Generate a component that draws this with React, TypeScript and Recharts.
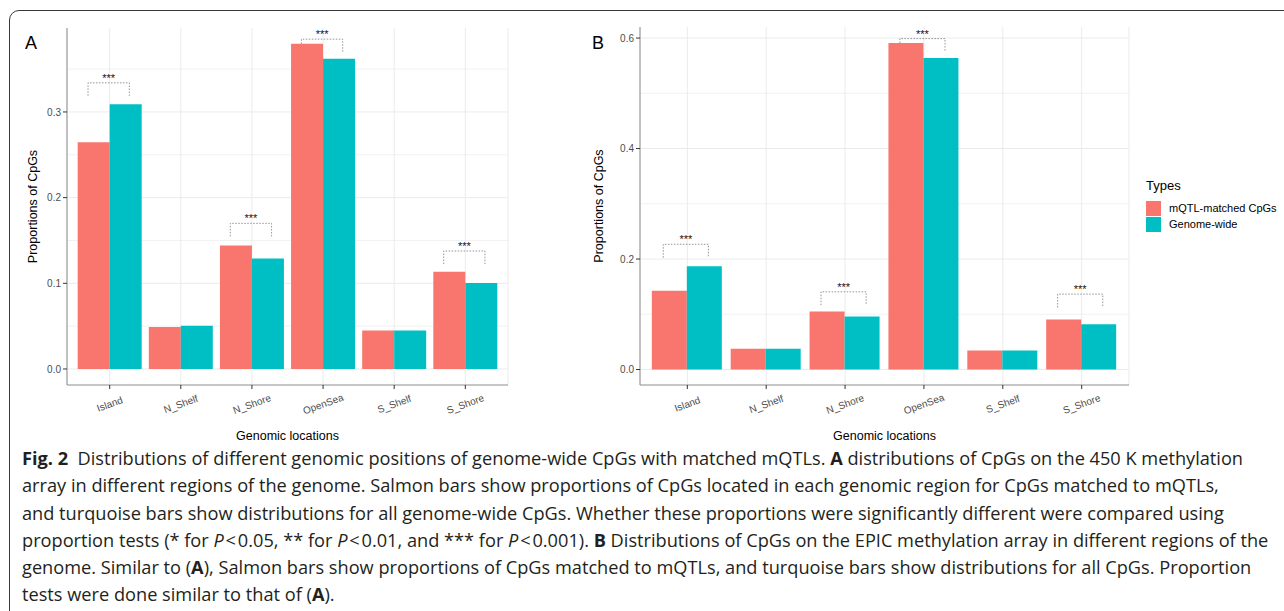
import React from 'react';
import {
  Bar,
  BarChart,
  CartesianGrid,
  Label,
  LabelList,
  Legend,
  XAxis,
  YAxis,
} from 'recharts';

// ---- data ----
const CATEGORIES = ['Island', 'N_Shelf', 'N_Shore', 'OpenSea', 'S_Shelf', 'S_Shore'];
const SIG = ['***', '', '***', '***', '', '***'];

// panel A: 450K array
const A_MATCHED = [0.2645, 0.049, 0.144, 0.3796, 0.045, 0.1135];
const A_GENOME = [0.309, 0.0505, 0.129, 0.362, 0.045, 0.1003];
const A_BRACKET = [0.334, null, 0.17, 0.385, null, 0.1377];
const A_TICKS = [0, 0.1, 0.2, 0.3];
const A_MINOR = [0.05, 0.15, 0.25, 0.35];
const A_DOMAIN: [number, number] = [-0.0187, 0.398];

// panel B: EPIC array
const B_MATCHED = [0.1425, 0.0374, 0.1052, 0.591, 0.0345, 0.0907];
const B_GENOME = [0.1868, 0.0374, 0.0961, 0.564, 0.0345, 0.0821];
const B_BRACKET = [0.2267, null, 0.1407, 0.599, null, 0.1365];
const B_TICKS = [0, 0.2, 0.4, 0.6];
const B_MINOR = [0.1, 0.3, 0.5];
const B_DOMAIN: [number, number] = [-0.028, 0.62];

const SERIES = [
  { key: 'matched', name: 'mQTL-matched CpGs', color: '#F8766D' },
  { key: 'genome', name: 'Genome-wide', color: '#00BFC4' },
];

const FONT = '"Liberation Sans", Arial, Helvetica, sans-serif';
const BORDER = '#8c8c8c';
const Y_AXIS_W = 40;
const X_AXIS_H = 58;
const CHART_H = 450;

type Row = {
  name: string;
  matched: number;
  genome: number;
  bracket: number | null;
  sig: string;
};

const makeRows = (matched: number[], genome: number[], bracket: (number | null)[]): Row[] =>
  CATEGORIES.map((name, i) => ({
    name,
    matched: matched[i],
    genome: genome[i],
    bracket: bracket[i],
    sig: SIG[i],
  }));

const ROWS_A = makeRows(A_MATCHED, A_GENOME, A_BRACKET);
const ROWS_B = makeRows(B_MATCHED, B_GENOME, B_BRACKET);

function RotTick({ x, y, payload }: any) {
  return (
    <g transform={`translate(${x},${y + 13})`}>
      <text
        transform="rotate(-20)"
        textAnchor="middle"
        dominantBaseline="central"
        fontFamily={FONT}
        fontSize={10}
        fill="#4d4d4d"
      >
        {payload.value}
      </text>
    </g>
  );
}

// significance bracket, hung off the teal bar so it follows the bar geometry
function Bracket(props: any) {
  const { rows, tip, index } = props;
  const vb = props.viewBox ?? props;
  const x = props.x ?? vb.x;
  const y = props.y ?? vb.y;
  const width = props.width ?? vb.width;
  const height = props.height ?? vb.height;
  const row: Row | undefined = rows[index];
  if (!row || row.bracket == null) return null;
  const base = y + height;
  const k = height / row.genome;
  const toPx = (v: number) => base - v * k;
  const cx = x;
  const half = width * 0.645;
  const top = toPx(row.bracket);
  const tipPx = toPx(row.bracket - tip);
  const leftEnd = Math.min(tipPx, toPx(row.matched));
  const rightEnd = Math.min(tipPx, toPx(row.genome));
  return (
    <g>
      <path
        d={`M${cx - half - 1},${leftEnd}V${top}H${cx + half - 1}V${rightEnd}`}
        fill="none"
        stroke="#7a7a7a"
        strokeWidth={0.8}
        strokeDasharray="1.5 1.5"
      />
      <text x={cx - 1} y={top - 1} textAnchor="middle" fontFamily={FONT} fontSize={11} fill="#111">
        {row.sig}
      </text>
    </g>
  );
}

function LegendBox({ payload }: any) {
  const order = (v: string) => SERIES.findIndex((s) => s.name === v);
  const items = [...(payload ?? [])].sort((a: any, b: any) => order(a.value) - order(b.value));
  return (
    <div style={{ fontFamily: FONT, color: '#000' }}>
      <div style={{ fontSize: 13, lineHeight: '15px', marginBottom: 7 }}>Types</div>
      {items.map((p: any) => (
        <div key={p.value} style={{ display: 'flex', alignItems: 'center', height: 16.3 }}>
          <span
            style={{ width: 15, height: 15, background: p.color, display: 'inline-block', marginRight: 8 }}
          />
          <span style={{ fontSize: 11 }}>{p.value}</span>
        </div>
      ))}
    </div>
  );
}

interface PanelProps {
  rows: Row[];
  ticks: number[];
  minor: number[];
  domain: [number, number];
  tip: number;
  width: number;
  margin: { top: number; right: number; bottom: number; left: number };
  yTitleDx: number;
  legend?: boolean;
}

function Panel({ rows, ticks, minor, domain, tip, width, margin, yTitleDx, legend }: PanelProps) {
  const plotW = width - margin.left - margin.right - Y_AXIS_W;
  // ggplot's discrete expansion: 0.6 of a category on each side
  const pad = plotW / 62;
  return (
    <BarChart
      width={width}
      height={CHART_H}
      data={rows}
      margin={margin}
      barCategoryGap="5%"
      barGap={0}
      style={{ fontFamily: FONT }}
    >
      <CartesianGrid stroke="#f2f2f2" horizontalValues={minor} vertical={false} />
      <CartesianGrid stroke="#ebebeb" horizontalValues={ticks} />
      <XAxis
        dataKey="name"
        height={X_AXIS_H}
        padding={{ left: pad, right: pad }}
        interval={0}
        tick={<RotTick />}
        tickSize={4}
        tickLine={{ stroke: '#333' }}
        axisLine={{ stroke: BORDER }}
      >
        <Label
          content={({ viewBox }: any) => (
            <text
              x={viewBox.x + viewBox.width / 2}
              y={viewBox.y + 51}
              textAnchor="middle"
              dominantBaseline="central"
              fontFamily={FONT}
              fontSize={12.5}
              fill="#000"
            >
              Genomic locations
            </text>
          )}
        />
      </XAxis>
      <XAxis
        xAxisId="top"
        orientation="top"
        dataKey="name"
        height={0}
        padding={{ left: pad, right: pad }}
        tick={false}
        tickLine={false}
        axisLine={{ stroke: BORDER }}
      />
      <YAxis
        domain={domain}
        ticks={ticks}
        allowDataOverflow
        width={Y_AXIS_W}
        tickSize={4}
        tickMargin={2}
        tick={{ fontSize: 10, fill: '#4d4d4d', fontFamily: FONT }}
        tickLine={{ stroke: '#333' }}
        axisLine={{ stroke: BORDER }}
        tickFormatter={(v: number) => v.toFixed(1)}
      >
        <Label
          content={({ viewBox }: any) => {
            const cx = viewBox.x + viewBox.width + yTitleDx;
            const cy = viewBox.y + viewBox.height / 2;
            return (
              <text
                transform={`translate(${cx},${cy}) rotate(-90)`}
                textAnchor="middle"
                dominantBaseline="central"
                fontFamily={FONT}
                fontSize={12.5}
                fill="#000"
              >
                Proportions of CpGs
              </text>
            );
          }}
        />
      </YAxis>
      <YAxis
        yAxisId="r"
        orientation="right"
        domain={domain}
        allowDataOverflow
        width={0}
        tick={false}
        tickLine={false}
        axisLine={{ stroke: BORDER }}
      />
      <Bar dataKey="matched" name={SERIES[0].name} fill={SERIES[0].color} isAnimationActive={false} />
      <Bar dataKey="genome" name={SERIES[1].name} fill={SERIES[1].color} isAnimationActive={false}>
        <LabelList
          dataKey="bracket"
          content={(p: any) => <Bracket {...p} rows={rows} tip={tip} />}
        />
      </Bar>
      {legend && (
        <Legend
          layout="vertical"
          align="center"
          verticalAlign="middle"
          content={<LegendBox />}
          wrapperStyle={{ left: 566, top: 178, width: 140 }}
        />
      )}
    </BarChart>
  );
}

const panelLetter: React.CSSProperties = {
  position: 'absolute',
  fontFamily: FONT,
  fontSize: 18,
  lineHeight: '18px',
  color: '#000',
};

const bold: React.CSSProperties = { fontWeight: 700 };
const LT = '\u200a<\u200a';

export default function App() {
  return (
    <div
      style={{
        position: 'absolute',
        left: 0,
        top: 0,
        width: 1284,
        height: 611,
        overflow: 'hidden',
        background: '#fff',
      }}
    >
      <div
        style={{
          position: 'absolute',
          left: 9,
          top: 10,
          width: 1400,
          height: 800,
          border: '1.5px solid #3a3a3a',
          borderTopLeftRadius: 10,
        }}
      />
      <div style={{ position: 'absolute', left: 0, top: 0 }}>
        <Panel
          rows={ROWS_A}
          ticks={A_TICKS}
          minor={A_MINOR}
          domain={A_DOMAIN}
          tip={0.0152}
          width={580}
          margin={{ top: 28, right: 72, bottom: 7, left: 27 }}
          yTitleDx={-34.5}
        />
      </div>
      <div style={{ position: 'absolute', left: 580, top: 0 }}>
        <Panel
          rows={ROWS_B}
          ticks={B_TICKS}
          minor={B_MINOR}
          domain={B_DOMAIN}
          tip={0.0242}
          width={704}
          margin={{ top: 27, right: 155, bottom: 7, left: 20 }}
          yTitleDx={-41}
          legend
        />
      </div>
      <div style={{ ...panelLetter, left: 25, top: 34 }}>A</div>
      <div style={{ ...panelLetter, left: 592, top: 34 }}>B</div>
      <div
        style={{
          position: 'absolute',
          left: 22,
          top: 445,
          fontFamily: '"Open Sans", sans-serif',
          fontSize: 18.2,
          lineHeight: '27.3px',
          color: '#231f20',
          whiteSpace: 'nowrap',
        }}
      >
        <div>
          <span style={bold}>Fig. 2</span>&nbsp; Distributions of different genomic positions of genome-wide CpGs
          with matched mQTLs. <span style={bold}>A</span> distributions of CpGs on the 450 K methylation
        </div>
        <div>
          array in different regions of the genome. Salmon bars show proportions of CpGs located in each genomic
          region for CpGs matched to mQTLs,
        </div>
        <div>
          and turquoise bars show distributions for all genome-wide CpGs. Whether these proportions were
          significantly different were compared using
        </div>
        <div>
          proportion tests (* for <i>P</i>
          {LT}0.05, ** for <i>P</i>
          {LT}0.01, and *** for <i>P</i>
          {LT}0.001). <span style={bold}>B</span> Distributions of CpGs on the EPIC methylation array in different
          regions of the
        </div>
        <div>
          genome. Similar to (<span style={bold}>A</span>), Salmon bars show proportions of CpGs matched to mQTLs, and
          turquoise bars show distributions for all CpGs. Proportion
        </div>
        <div>
          tests were done similar to that of (<span style={bold}>A</span>).
        </div>
      </div>
    </div>
  );
}
